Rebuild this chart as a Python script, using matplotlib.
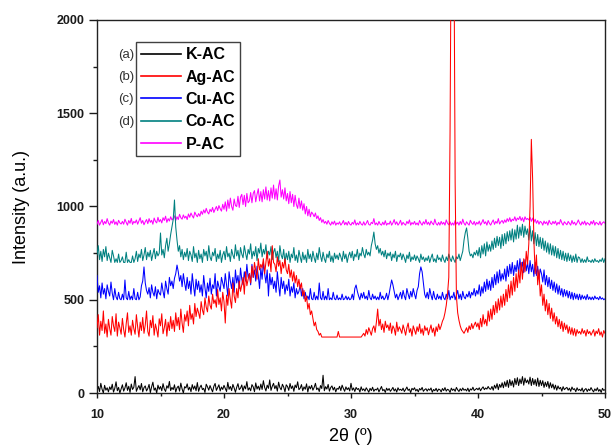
import numpy as np
import matplotlib
matplotlib.use("Agg")
import matplotlib.pyplot as plt

plt.rcParams['font.family'] = ['Liberation Sans', 'DejaVu Sans']

# 2-theta sampling grid: 10.0 .. 50.0 step 0.1 (401 points)
theta = np.round(np.linspace(10.0, 50.0, 401), 1)

series_names = ["K-AC", "Ag-AC", "Cu-AC", "Co-AC", "P-AC"]
side_tags = ["(a)", "(b)", "(c)", "(d)", ""]

k_ac = [
    12, 35, 8, 52, 20, 0, 41, 15, 28, 6,
    33, 18, 47, 5, 25, 60, 12, 30, 0, 22,
    44, 10, 27, 55, 14, 36, 3, 48, 19, 31,
    88, 9, 26, 40, 17, 51, 6, 29, 38, 11,
    24, 46, 2, 33, 58, 15, 27, 0, 42, 20,
    35, 12, 50, 21, 8, 39, 26, 62, 13, 30,
    18, 44, 5, 28, 37, 10, 53, 22, 0, 34,
    27, 49, 16, 31, 7, 45, 20, 38, 12, 56,
    9, 30, 42, 18, 25, 3, 47, 33, 15, 40,
    22, 6, 36, 51, 14, 29, 44, 11, 32, 19,
    41, 25, 8, 57, 20, 35, 13, 46, 27, 4,
    31, 50, 18, 26, 43, 9, 38, 22, 61, 15,
    28, 12, 45, 33, 7, 54, 21, 37, 16, 48,
    19, 66, 30, 11, 42, 25, 70, 14, 36, 52,
    23, 40, 10, 58, 29, 17, 47, 32, 6, 44,
    35, 14, 51, 24, 38, 9, 43, 28, 60, 18,
    26, 45, 12, 33, 20, 49, 5, 37, 22, 41,
    15, 30, 52, 18, 27, 8, 40, 24, 95, 12,
    34, 21, 46, 10, 29, 38, 16, 31, 6, 25,
    20, 36, 13, 42, 24, 9, 33, 18, 28, 11,
    52, 15, 27, 8, 30, 19, 24, 5, 33, 14,
    22, 10, 28, 17, 4, 25, 13, 31, 9, 20,
    16, 27, 6, 21, 35, 12, 19, 3, 26, 14,
    24, 9, 18, 30, 11, 22, 5, 28, 15, 20,
    13, 26, 8, 19, 32, 14, 21, 2, 25, 17,
    28, 11, 20, 6, 24, 16, 30, 9, 18, 23,
    10, 22, 15, 27, 4, 19, 12, 25, 8, 21,
    18, 6, 24, 13, 29, 10, 20, 16, 3, 26,
    14, 21, 9, 30, 17, 8, 23, 12, 27, 15,
    20, 11, 26, 7, 22, 16, 31, 13, 19, 25,
    17, 28, 12, 24, 33, 18, 27, 21, 35, 23,
    20, 35, 15, 42, 25, 50, 18, 46, 30, 55,
    28, 60, 35, 68, 30, 72, 40, 65, 32, 78,
    45, 82, 40, 75, 50, 88, 42, 80, 55, 70,
    48, 85, 40, 78, 45, 72, 38, 80, 35, 68,
    40, 66, 30, 58, 35, 62, 25, 55, 28, 48,
    20, 42, 15, 38, 22, 30, 10, 34, 18, 25,
    30, 15, 26, 9, 32, 18, 23, 7, 28, 14,
    20, 11, 27, 5, 18, 24, 8, 21, 13, 29,
    16, 6, 22, 12, 28, 9, 19, 3, 25, 14,
    18,
]

ag_ac = [
    350, 420, 310, 385, 335, 440, 320, 370, 300, 395,
    345, 310, 410, 360, 330, 425, 305, 380, 350, 315,
    400, 340, 300, 372, 430, 325, 360, 310, 390, 345,
    315, 420, 355, 300, 380, 335, 405, 320, 365, 440,
    330, 305, 390, 350, 415, 310, 370, 340, 300, 398,
    360, 425, 318, 350, 395, 305, 380, 335, 410, 345,
    390, 330, 430, 360, 405, 340, 450, 375, 325, 420,
    385, 440, 360, 470, 395, 425, 370, 480, 410, 455,
    430, 400, 490, 445, 420, 510, 460, 435, 520, 470,
    450, 530, 480, 500, 460, 555, 475, 510, 440, 540,
    490, 375, 525, 470, 560, 500, 455, 590, 520, 485,
    560, 510, 600, 545, 580, 620, 530, 650, 575, 610,
    640, 590, 680, 620, 700, 655, 610, 720, 660, 690,
    670, 720, 640, 700, 760, 680, 720, 650, 790, 700,
    690, 650, 730, 680, 710, 640, 700, 670, 720, 660,
    640, 690, 620, 660, 600, 650, 590, 630, 570, 610,
    560, 590, 520, 550, 490, 520, 450, 480, 420, 440,
    400, 360, 380, 340, 330, 310, 320, 300, 300, 300,
    300, 300, 300, 300, 300, 300, 300, 300, 300, 300,
    330, 300, 300, 300, 300, 300, 300, 300, 300, 300,
    300, 300, 300, 300, 300, 300, 300, 300, 300, 310,
    320, 305, 340, 315, 350, 330, 310, 345, 360, 325,
    380, 450, 360, 395, 340, 370, 325, 385, 350, 365,
    335, 375, 320, 360, 345, 310, 380, 330, 355, 340,
    320, 365, 340, 310, 350, 375, 325, 345, 305, 360,
    338, 315, 355, 330, 370, 320, 345, 310, 360, 335,
    350, 312, 340, 365, 325, 348, 305, 355, 330, 370,
    340, 360, 385, 400, 430, 470, 530, 620, 1400, 2600,
    2800, 2500, 1130, 520, 430, 390, 360, 340, 330, 320,
    335, 350, 325, 360, 340, 372, 345, 365, 380, 355,
    375, 340, 400, 355, 420, 370, 395, 360, 440, 385,
    450, 395, 470, 420, 490, 430, 505, 445, 520, 460,
    530, 470, 555, 490, 580, 510, 600, 525, 620, 545,
    640, 565, 660, 590, 700, 610, 720, 650, 760, 690,
    800, 1000, 1360, 1150, 820, 640, 740, 580, 660, 520,
    580, 470, 530, 440, 500, 420, 480, 400, 455, 385,
    430, 370, 410, 355, 395, 345, 385, 330, 375, 340,
    365, 320, 355, 315, 350, 310, 345, 305, 340, 320,
    330, 315, 345, 320, 335, 305, 340, 318, 330, 310,
    325, 340, 305, 332, 318, 345, 310, 328, 300, 335,
    320,
]

cu_ac = [
    630, 540, 575, 510, 590, 530, 560, 505, 580, 545,
    520, 595, 535, 500, 560, 515, 500, 540, 505, 500,
    530, 500, 606, 510, 500, 545, 500, 520, 500, 560,
    505, 500, 540, 500, 515, 575, 600, 676, 590, 550,
    530, 565, 510, 580, 540, 520, 570, 505, 555, 535,
    525, 590, 545, 510, 600, 560, 530, 620, 575, 600,
    560, 615, 640, 686, 650, 600, 630, 570, 640, 590,
    550, 620, 560, 600, 530, 640, 575, 520, 610, 555,
    600, 540, 580, 520, 630, 565, 510, 590, 545, 615,
    530, 580, 560, 640, 520, 600, 570, 545, 620, 590,
    560, 640, 580, 520, 650, 600, 560, 620, 540, 660,
    590, 630, 560, 670, 610, 580, 650, 600, 690, 620,
    640, 580, 690, 620, 660, 600, 680, 630, 560, 670,
    610, 700, 640, 590, 660, 520, 640, 580, 620, 560,
    600, 540, 650, 580, 520, 620, 560, 600, 530, 580,
    550, 610, 520, 570, 540, 590, 510, 560, 530, 545,
    580, 520, 560, 505, 540, 500, 520, 500, 560, 505,
    500, 540, 500, 520, 500, 590, 510, 500, 545, 500,
    520, 500, 560, 500, 510, 500, 540, 505, 500, 525,
    500, 510, 500, 530, 500, 505, 520, 500, 515, 500,
    505, 530, 500, 560, 579, 545, 520, 500, 535, 510,
    540, 505, 520, 500, 550, 510, 500, 530, 505, 520,
    500, 515, 500, 540, 505, 520, 500, 510, 535, 500,
    530, 570, 606, 580, 545, 510, 530, 500, 520, 540,
    505, 550, 520, 500, 560, 530, 505, 545, 515, 560,
    530, 505, 550, 570, 640, 676, 650, 590, 530, 510,
    540, 505, 560, 525, 500, 545, 510, 500, 530, 505,
    520, 500, 540, 510, 500, 530, 505, 550, 500, 520,
    510, 540, 500, 525, 550, 505, 530, 500, 545, 515,
    505, 530, 515, 545, 510, 540, 525, 560, 520, 550,
    530, 580, 520, 570, 535, 595, 545, 610, 555, 600,
    550, 620, 565, 635, 580, 650, 590, 660, 600, 640,
    610, 665, 600, 680, 625, 690, 640, 700, 630, 685,
    650, 710, 640, 720, 660, 702, 645, 715, 655, 700,
    640, 710, 650, 690, 625, 700, 630, 680, 610, 665,
    640, 595, 660, 580, 630, 570, 620, 560, 605, 550,
    595, 540, 585, 530, 575, 525, 560, 515, 555, 520,
    550, 510, 545, 505, 540, 500, 535, 505, 530, 500,
    530, 500, 525, 505, 520, 500, 528, 502, 515, 500,
    515, 500, 520, 505, 512, 500, 518, 503, 510, 500,
    505,
]

co_ac = [
    740, 790, 715, 760, 705, 770, 730, 785, 710, 750,
    725, 700, 765, 735, 700, 720, 700, 745, 700, 710,
    730, 700, 700, 755, 700, 715, 700, 700, 735, 700,
    720, 760, 705, 745, 725, 770, 710, 740, 780, 715,
    755, 730, 765, 710, 745, 775, 720, 760, 735, 750,
    858, 740, 770, 725, 790, 830, 760, 800, 850, 890,
    930, 1035, 890, 820, 760, 790, 730, 770, 715, 755,
    730, 775, 710, 760, 740, 705, 785, 725, 750, 700,
    765, 720, 745, 700, 770, 735, 760, 710, 790, 730,
    710, 755, 735, 775, 705, 745, 720, 765, 700, 740,
    760, 715, 785, 730, 750, 705, 770, 740, 720, 795,
    735, 765, 710, 780, 745, 725, 790, 750, 715, 770,
    745, 800, 720, 760, 735, 785, 710, 775, 750, 804,
    730, 770, 745, 795, 720, 760, 740, 785, 715, 755,
    775, 725, 760, 705, 790, 740, 720, 770, 700, 750,
    715, 760, 700, 745, 725, 780, 710, 740, 700, 765,
    730, 700, 755, 715, 740, 700, 770, 720, 745, 705,
    760, 725, 700, 750, 715, 780, 735, 705, 755, 720,
    700, 745, 725, 760, 705, 735, 700, 750, 720, 740,
    715, 750, 730, 705, 760, 720, 745, 700, 735, 755,
    725, 760, 710, 745, 730, 770, 715, 750, 735, 780,
    745, 725, 770, 740, 755, 735, 790, 820, 863, 800,
    770, 790, 750, 775, 740, 760, 730, 765, 720, 750,
    735, 755, 710, 745, 725, 760, 705, 740, 730, 750,
    715, 745, 725, 700, 740, 720, 755, 705, 730, 715,
    740, 710, 735, 720, 700, 745, 715, 730, 705, 725,
    710, 735, 700, 725, 745, 705, 720, 700, 740, 715,
    725, 705, 740, 715, 700, 730, 710, 745, 720, 705,
    735, 715, 700, 730, 720, 745, 710, 735, 760, 820,
    860, 885, 830, 760, 735, 745, 725, 755, 740, 765,
    735, 780, 725, 790, 745, 800, 735, 810, 760, 795,
    760, 815, 770, 830, 780, 840, 790, 835, 775, 850,
    790, 855, 800, 865, 815, 870, 820, 880, 810, 875,
    825, 900, 830, 890, 845, 905, 835, 895, 850, 880,
    820, 895, 815, 870, 800, 860, 790, 850, 785, 835,
    775, 830, 765, 815, 755, 805, 745, 800, 740, 790,
    735, 785, 725, 775, 720, 765, 715, 760, 710, 750,
    705, 750, 710, 740, 700, 735, 705, 745, 700, 730,
    725, 700, 720, 700, 715, 700, 730, 705, 710, 700,
    715, 700, 720, 705, 710, 700, 715, 705, 724, 700,
    720,
]

p_ac = [
    905, 925, 900, 915, 930, 902, 920, 908, 935, 912,
    900, 922, 910, 930, 904, 918, 900, 926, 912, 906,
    920, 905, 932, 915, 900, 925, 910, 936, 904, 920,
    912, 928, 905, 922, 940, 910, 925, 902, 918, 930,
    908, 935, 915, 926, 905, 938, 920, 912, 942, 918,
    930, 912, 940, 925, 948, 915, 935, 922, 945, 928,
    935, 950, 925, 945, 930, 958, 940, 932, 955, 938,
    948, 930, 960, 942, 965, 950, 938, 970, 955, 945,
    962, 948, 975, 958, 982, 965, 990, 970, 960, 985,
    972, 995, 968, 985, 1000, 978, 1005, 988, 975, 1012,
    985, 1025, 975, 1035, 990, 1045, 1000, 980, 1040, 1005,
    1000, 1055, 995, 1050, 1065, 1010, 1060, 1000, 1070, 1020,
    1030, 1075, 1020, 1070, 1085, 1025, 1065, 1095, 1030, 1080,
    1025, 1090, 1040, 1105, 1035, 1085, 1030, 1100, 1045, 1115,
    1040, 1095, 1035, 1110, 1142, 1050, 1090, 1040, 1100, 1030,
    1070, 1015, 1080, 1020, 1065, 1000, 1060, 1010, 990, 1045,
    990, 1030, 980, 1015, 960, 1000, 950, 985, 945, 970,
    960, 945, 965, 935, 950, 925, 940, 915, 930, 910,
    920, 905, 925, 910, 900, 918, 905, 922, 900, 912,
    905, 918, 900, 910, 925, 902, 915, 900, 920, 906,
    900, 915, 905, 928, 900, 912, 902, 920, 906, 900,
    918, 900, 910, 925, 904, 900, 915, 908, 935, 902,
    912, 900, 920, 905, 900, 916, 902, 924, 900, 910,
    905, 922, 900, 912, 930, 904, 918, 900, 910, 926,
    900, 915, 906, 900, 920, 908, 928, 900, 914, 905,
    920, 902, 912, 900, 925, 910, 900, 918, 906, 930,
    904, 916, 900, 922, 910, 902, 932, 908, 900, 915,
    900, 920, 905, 915, 900, 928, 910, 902, 918, 900,
    912, 900, 925, 906, 916, 900, 920, 904, 932, 910,
    900, 918, 908, 900, 926, 912, 904, 920, 900, 915,
    906, 922, 900, 914, 930, 908, 918, 900, 925, 910,
    900, 916, 928, 904, 920, 910, 935, 906, 918, 925,
    910, 928, 915, 935, 920, 940, 918, 932, 925, 945,
    922, 938, 930, 947, 925, 940, 918, 945, 930, 936,
    928, 942, 920, 938, 915, 932, 910, 925, 905, 920,
    915, 900, 922, 908, 918, 900, 926, 910, 904, 920,
    908, 922, 900, 915, 906, 930, 912, 900, 918, 910,
    902, 920, 910, 900, 925, 906, 916, 900, 912, 928,
    910, 900, 918, 905, 922, 900, 914, 908, 900, 920,
    906, 925, 900, 915, 910, 902, 920, 900, 912, 918,
    910,
]

colors = ["#000000", "#ff0000", "#0000ff", "#008080", "#ff00ff"]
x_ticks = [10, 20, 30, 40, 50]
y_ticks = [0, 500, 1000, 1500, 2000]

fig = plt.figure(figsize=(6.13, 4.47), dpi=100)
ax = fig.add_axes([97 / 613, 54 / 447, 508 / 613, 373 / 447])

data = [k_ac, ag_ac, cu_ac, co_ac, p_ac]
zorders = [2, 6, 5, 4, 3]
for name, vals, c, z in zip(series_names, data, colors, zorders):
    ax.plot(theta, vals, color=c, lw=0.75, label=name, zorder=z)

ax.set_xlim(10, 50)
ax.set_ylim(0, 2000)
ax.set_xticks(x_ticks)
ax.set_yticks(y_ticks)
ax.set_xticks([15, 25, 35, 45], minor=True)
ax.set_yticks([250, 750, 1250, 1750], minor=True)
tick_col = '#1a1a1a'
ax.tick_params(axis='x', which='major', direction='out', length=3.8, width=1.0,
               labelsize=9, colors=tick_col, pad=8)
ax.tick_params(axis='x', which='minor', direction='out', length=2.3, width=1.0,
               colors=tick_col)
ax.tick_params(axis='y', which='major', direction='out', length=6, width=1.0,
               labelsize=9, colors=tick_col, pad=3)
ax.tick_params(axis='y', which='minor', direction='out', length=3, width=1.0,
               colors=tick_col)
for lab in ax.get_xticklabels() + ax.get_yticklabels():
    lab.set_fontweight('bold')
for sp in ax.spines.values():
    sp.set_linewidth(1.0)
    sp.set_color('#222222')

ax.set_xlabel("2θ (º)", fontsize=13, labelpad=5)
ax.set_ylabel("Intensity (a.u.)", fontsize=13, labelpad=19)

leg = ax.legend(loc='upper left', bbox_to_anchor=(0.077, 0.94),
                fontsize=11.5, frameon=True, fancybox=False,
                edgecolor='#111111', handlelength=2.5, handletextpad=0.3,
                labelspacing=0.46, borderpad=0.3, borderaxespad=0.0)
leg.get_frame().set_linewidth(1.0)
for t in leg.get_texts():
    t.set_fontweight('bold')
for h in leg.legend_handles:
    h.set_linewidth(1.2)

fig.canvas.draw()
renderer = fig.canvas.get_renderer()
fbox = leg.get_frame().get_window_extent(renderer)
inv = fig.transFigure.inverted()
for tag, txt in zip(side_tags, leg.get_texts()):
    if not tag:
        continue
    bb = txt.get_window_extent(renderer)
    yc = (bb.y0 + bb.y1) / 2
    xf, yf = inv.transform((fbox.x0 - 2, yc))
    fig.text(xf, yf, tag, ha='right', va='center', fontsize=9.5,
             color='#333333')

fig.savefig("out.png", dpi=100)
